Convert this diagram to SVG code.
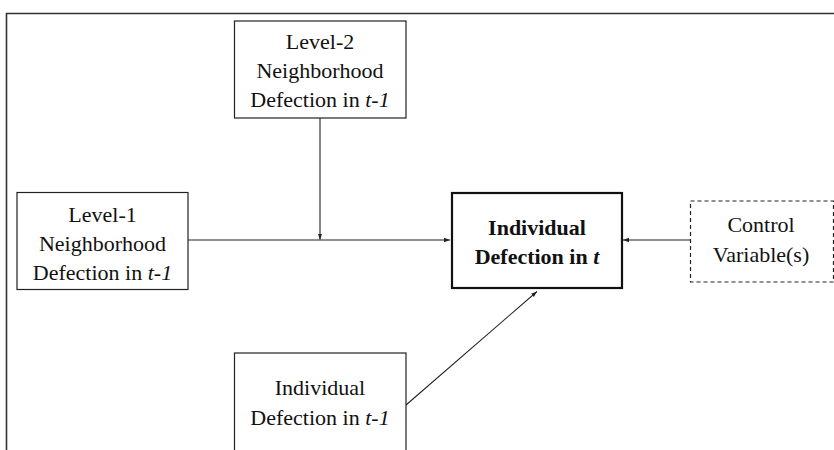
<svg xmlns="http://www.w3.org/2000/svg" width="834" height="450" viewBox="0 0 834 450">
<defs>
<marker id="ah" markerWidth="6" markerHeight="6" refX="6" refY="3" orient="auto" markerUnits="userSpaceOnUse">
<path d="M0,0.8 L6,3 L0,5.2 Z" fill="#222"/>
</marker>
</defs>
<style>
.box{fill:#fff;stroke:#222;stroke-width:1.2}
.main{fill:#fff;stroke:#111;stroke-width:2.2}
.dash{fill:#fff;stroke:#222;stroke-width:1.2;stroke-dasharray:4 3}
.t{font-family:"Liberation Serif","Times New Roman",serif;font-size:22px;fill:#111;text-anchor:middle}
.b{font-weight:bold}
.conn{stroke:#222;stroke-width:1.1;fill:none;marker-end:url(#ah)}
</style>
<rect x="0" y="0" width="834" height="450" fill="#fff"/>
<path d="M6.5,460 V13.5 H840" fill="none" stroke="#333" stroke-width="1.6"/>
<g id="connectors">
<line class="conn" x1="320" y1="118" x2="320" y2="239.5"/>
<line class="conn" x1="188" y1="240" x2="450" y2="240"/>
<line class="conn" x1="690" y1="240" x2="623" y2="240"/>
<line class="conn" x1="406" y1="405" x2="537" y2="291.5"/>
</g>
<g id="level2">
<rect class="box" x="234.5" y="21" width="171.5" height="97"/>
<text class="t" x="320" y="49">Level-2</text>
<text class="t" x="320" y="78">Neighborhood</text>
<text class="t" x="320" y="107">Defection in <tspan font-style="italic">t-1</tspan></text>
</g>
<g id="level1">
<rect class="box" x="17" y="192.5" width="171" height="97"/>
<text class="t" x="102.5" y="222">Level-1</text>
<text class="t" x="102.5" y="251">Neighborhood</text>
<text class="t" x="102.5" y="280">Defection in <tspan font-style="italic">t-1</tspan></text>
</g>
<g id="individual-t">
<rect class="main" x="452" y="193" width="170" height="95"/>
<text class="t b" x="537" y="235">Individual</text>
<text class="t b" x="537" y="263.5">Defection in <tspan font-style="italic">t</tspan></text>
</g>
<g id="control">
<rect class="dash" x="690.5" y="201" width="143" height="81"/>
<text class="t" x="761" y="232">Control</text>
<text class="t" x="761" y="262">Variable(s)</text>
</g>
<g id="individual-t1">
<rect class="box" x="234.5" y="353" width="171.5" height="110"/>
<text class="t" x="320" y="395">Individual</text>
<text class="t" x="320" y="425">Defection in <tspan font-style="italic">t-1</tspan></text>
</g>
</svg>
